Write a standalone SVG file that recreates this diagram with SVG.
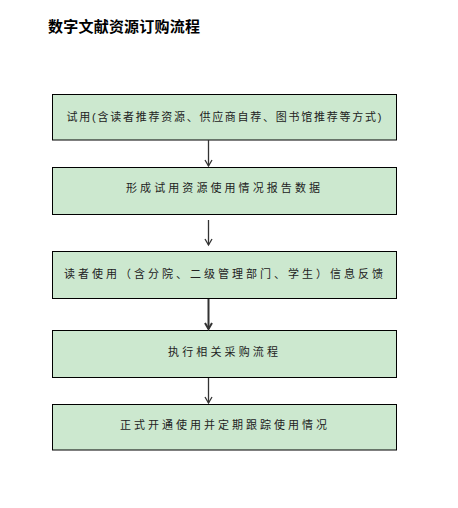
<svg xmlns="http://www.w3.org/2000/svg" width="458" height="508" viewBox="0 0 458 508">
<style>
.box{fill:#cce8cf;stroke:#000;stroke-width:1}
.t{font-family:"Liberation Sans","Noto Sans CJK SC",sans-serif;font-size:11px;fill:#222;text-anchor:middle;dominant-baseline:central}
.title{font-family:"Liberation Sans","Noto Sans CJK SC",sans-serif;font-size:15px;font-weight:bold;fill:#000}
.c{stroke:#333;stroke-width:1.3;fill:none}
.ah{stroke:#333;stroke-width:1.3;fill:none}
</style>
<rect width="458" height="508" fill="#fff"/>
<text class="title" x="48" y="32" textLength="152" lengthAdjust="spacing">数字文献资源订购流程</text>
<g id="n1"><rect class="box" x="52.5" y="94.5" width="344" height="45.5"/><text class="t" x="224" y="116.5" textLength="315" lengthAdjust="spacing">试用(含读者推荐资源、供应商自荐、图书馆推荐等方式)</text></g>
<g id="n2"><rect class="box" x="52.5" y="167.5" width="344" height="47"/><text class="t" x="223" y="188" textLength="194" lengthAdjust="spacing">形成试用资源使用情况报告数据</text></g>
<g id="n3"><rect class="box" x="52.5" y="251.5" width="344" height="47"/><text class="t" x="223.5" y="274" textLength="319" lengthAdjust="spacing">读者使用（含分院、二级管理部门、学生）信息反馈</text></g>
<g id="n4"><rect class="box" x="52.5" y="330.5" width="344" height="47"/><text class="t" x="223" y="352" textLength="110" lengthAdjust="spacing">执行相关采购流程</text></g>
<g id="n5"><rect class="box" x="52.5" y="404.5" width="344" height="45.5"/><text class="t" x="223.5" y="425" textLength="207" lengthAdjust="spacing">正式开通使用并定期跟踪使用情况</text></g>
<g id="connectors">
<line class="c" x1="208.5" y1="140" x2="208.5" y2="166"/><path class="ah" d="M205,160 L208.5,166 L212,160"/>
<line class="c" x1="208.5" y1="220" x2="208.5" y2="245"/><path class="ah" d="M205,239 L208.5,245 L212,239"/>
<line class="c" x1="208.5" y1="299" x2="208.5" y2="329" style="stroke-width:2"/><path class="ah" d="M205,323 L208.5,329 L212,323" style="stroke-width:2"/>
<line class="c" x1="208.5" y1="378" x2="208.5" y2="403"/><path class="ah" d="M205,397 L208.5,403 L212,397"/>
</g>
</svg>
